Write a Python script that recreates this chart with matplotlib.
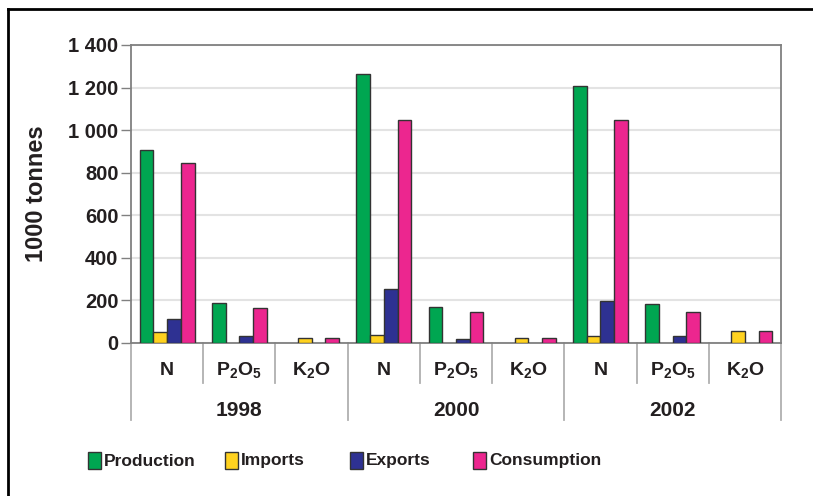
import matplotlib
matplotlib.use("Agg")
import matplotlib.pyplot as plt
import matplotlib.transforms as mtransforms
from matplotlib.patches import Rectangle
from matplotlib.ticker import FuncFormatter
from matplotlib import font_manager
import numpy as np

plt.rcParams['font.family'] = ['Liberation Sans', 'DejaVu Sans']
plt.rcParams['font.weight'] = 'bold'
plt.rcParams['mathtext.fontset'] = 'custom'
plt.rcParams['mathtext.rm'] = 'Liberation Sans:bold'
plt.rcParams['mathtext.bf'] = 'Liberation Sans:bold'
plt.rcParams['mathtext.it'] = 'Liberation Sans:bold'

names = {f.name for f in font_manager.fontManager.ttflist}
narrow = 'Liberation Sans Narrow' in names

years = ['1998', '2000', '2002']
nutrients = ['N', r'P$_\mathbf{2}$O$_\mathbf{5}$', r'K$_\mathbf{2}$O']
series = ['Production', 'Imports', 'Exports', 'Consumption']

# 1000 tonnes, order: N, P2O5, K2O for 1998, 2000, 2002
production = [906, 189, 0, 1262, 171, 0, 1207, 183, 0]
imports = [50, 0, 23, 39, 0, 25, 33, 0, 56]
exports = [111, 33, 0, 252, 17, 0, 196, 33, 0]
consumption = [847, 164, 23, 1046, 147, 25, 1046, 147, 56]

colors = ['#00a651', '#ffd21f', '#2e3192', '#ec268f']
edge = '#333333'
text_col = '#231f20'

fig = plt.figure(figsize=(8.13, 4.96), dpi=100)
W, H = 813, 496
ax = fig.add_axes([131 / W, 1 - 343 / H, 650 / W, 298 / H])

x = np.arange(len(production))
bw = 0.19
all_vals = [production, imports, exports, consumption]
for i, (vals, c) in enumerate(zip(all_vals, colors)):
    v = np.array(vals, dtype=float)
    m = v > 0
    ax.bar(x[m] + (i - 1.5) * bw, v[m], bw, color=c, edgecolor=edge,
           linewidth=1.0, zorder=3)

ax.set_xlim(-0.5, 8.5)
ax.set_ylim(0, 1400)
ax.set_yticks(np.arange(0, 1401, 200))
ax.yaxis.set_major_formatter(FuncFormatter(lambda v, p: f"{v:,.0f}".replace(",", " ")))
ax.tick_params(axis='y', length=7, width=1, color='#808080', pad=2,
               labelsize=14.5, labelcolor=text_col)
for lab in ax.get_yticklabels():
    lab.set_fontweight('bold')
ax.set_xticks([])
ax.grid(axis='y', color='#e3e3e3', linewidth=1.5, zorder=0)
for s in ax.spines.values():
    s.set_color('#808080')
    s.set_linewidth(1.3)

ax.set_ylabel('1000 tonnes', fontsize=17, fontweight='bold', color=text_col)
ax.yaxis.set_label_coords(-0.128, 0.5)

# multi-level category axis
trans = mtransforms.blended_transform_factory(ax.transData, ax.transAxes)
for k in range(len(x) + 1):
    xb = k - 0.5
    low = -0.258 if k % 3 == 0 else -0.134
    ax.plot([xb, xb], [0, low], transform=trans, color='#b0b0b0',
            linewidth=1.3, clip_on=False)
for k in range(len(x)):
    ax.text(k, -0.092, nutrients[k % 3], transform=trans, ha='center',
            va='center', fontsize=14, fontweight='bold', color=text_col)
for g, yr in enumerate(years):
    ax.text(3 * g + 1, -0.228, yr, transform=trans, ha='center',
            va='center', fontsize=15, fontweight='bold', color=text_col)

# legend
leg_x = [88, 225, 350, 473]
leg_family = ['Liberation Sans Narrow', 'Liberation Sans'] if narrow else ['Liberation Sans']
leg_size = 14 if narrow else 12.5
for name, c, lx in zip(series, colors, leg_x):
    fig.patches.append(Rectangle((lx / W, 1 - 469 / H), 13 / W, 17 / H,
                                 transform=fig.transFigure, facecolor=c,
                                 edgecolor=edge, linewidth=1.0))
    fig.text((lx + 16) / W, 1 - 461 / H, name, ha='left', va='center',
             fontsize=leg_size, fontweight='bold', color=text_col,
             family=leg_family)

# outer frame (top and left edges visible)
fig.add_artist(plt.Line2D([8 / W, 8 / W], [0, 1 - 9 / H], color='black',
                          linewidth=2, transform=fig.transFigure))
fig.add_artist(plt.Line2D([8 / W, 1], [1 - 9 / H, 1 - 9 / H], color='black',
                          linewidth=2, transform=fig.transFigure))

fig.savefig('out.png', dpi=100)
